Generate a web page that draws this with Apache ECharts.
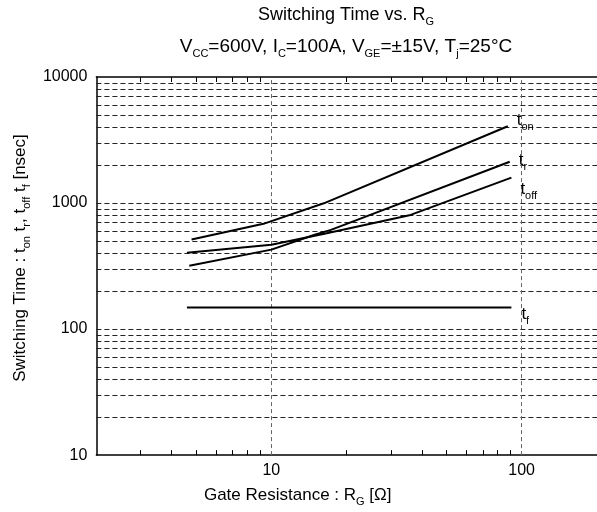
<!DOCTYPE html>
<html>
<head>
<meta charset="utf-8">
<script src="https://cdn.jsdelivr.net/npm/echarts@6/dist/echarts.min.js"></script>
<style>
  html, body { margin: 0; padding: 0; background: #fff; }
  #chart { width: 597px; height: 512px; }
</style>
</head>
<body>
<div id="chart"></div>
<script>
// gate resistance (ohm) and switching time (nsec)
const rgOn = [4.8, 9.3, 16.2, 88]
const tOn = [514, 684, 995, 4065]

const rgR = [4.7, 10, 14.9, 17.3, 89.6]
const tR = [318, 427, 560, 612, 2128]

const rgOff = [4.6, 10, 16.3, 36, 91]
const tOff = [404, 467, 570, 805, 1592]

const rgF = [4.6, 91]
const tF = [148, 148]

// axis ticks / grid values
const xLabels = [10, 100]
const xMinor = [3, 4, 5, 6, 7, 8, 9, 20, 30, 40, 50, 60, 70, 80, 90]
const yLabels = [10, 100, 1000, 10000]
const yGrid = [20, 30, 40, 50, 60, 70, 80, 90, 100, 200, 300, 400, 500, 600, 700, 800, 900,
  1000, 2000, 3000, 4000, 5000, 6000, 7000, 8000, 9000]

const FONT = 'Liberation Sans'
const subRich = {
  s: { fontFamily: FONT, fontSize: 11, color: '#000', verticalAlign: 'bottom', lineHeight: 24 }
}

function pairs(xs, ys) {
  return xs.map((x, i) => [x, ys[i]])
}

// curve with its name (t_on, t_r ...) written after the last point
function curve(sub, xs, ys, offset) {
  return {
    name: 't' + sub,
    type: 'line',
    data: pairs(xs, ys),
    symbol: 'none',
    lineStyle: { color: '#000', width: 2 },
    endLabel: {
      show: true,
      distance: 3,
      offset: offset,
      formatter: 't{s|' + sub + '}',
      fontFamily: FONT,
      fontSize: 17,
      lineHeight: 24,
      color: '#000',
      rich: subRich
    },
    z: 5
  }
}

const fSeries = curve('f', rgF, tF, [7, 7])
fSeries.markLine = {
  silent: true,
  symbol: 'none',
  label: { show: false },
  animation: false,
  data: yGrid.map(v => ({ yAxis: v, lineStyle: { color: '#222', width: 1, type: [5, 3] } }))
    .concat(xLabels.map(v => ({ xAxis: v, lineStyle: { color: '#666', width: 1, type: [4, 3] } })))
}

const option = {
  animation: false,
  textStyle: { fontFamily: FONT },
  title: [
    {
      text: 'Switching Time vs. R{s|G}',
      left: 346,
      top: 3,
      textAlign: 'center',
      padding: 0,
      textStyle: { fontFamily: FONT, fontSize: 18, fontWeight: 'normal', color: '#000', lineHeight: 24, rich: subRich }
    },
    {
      text: 'V{s|CC}=600V, I{s|C}=100A, V{s|GE}=±15V, T{s|j}=25°C',
      left: 346,
      top: 35,
      textAlign: 'center',
      padding: 0,
      textStyle: { fontFamily: FONT, fontSize: 19, fontWeight: 'normal', color: '#000', lineHeight: 24, rich: subRich }
    }
  ],
  grid: { left: 95, right: -1, top: 77, bottom: 54 },
  xAxis: [
    {
      type: 'log',
      logBase: 10,
      min: 2,
      max: 200,
      name: 'Gate Resistance : R{s|G} [Ω]',
      nameLocation: 'middle',
      nameGap: 26,
      nameTextStyle: {
        fontFamily: FONT, fontSize: 17, color: '#000', lineHeight: 24,
        padding: [0, 98, 0, 0], rich: subRich
      },
      axisLine: { lineStyle: { color: '#000', width: 1.5 } },
      axisTick: { show: true, inside: true, length: 5, customValues: xMinor, lineStyle: { color: '#000', width: 1 } },
      axisLabel: {
        customValues: xLabels, fontFamily: FONT, fontSize: 16, color: '#000', margin: 7,
        formatter: v => String(Math.round(v))
      },
      splitLine: { show: false },
      minorTick: { show: false }
    },
    {
      type: 'log',
      logBase: 10,
      min: 2,
      max: 200,
      position: 'top',
      axisLine: { lineStyle: { color: '#000', width: 1.5 } },
      axisTick: { show: true, inside: true, length: 5, customValues: xMinor, lineStyle: { color: '#000', width: 1 } },
      axisLabel: { show: false },
      splitLine: { show: false }
    }
  ],
  yAxis: {
    type: 'log',
    logBase: 10,
    min: 10,
    max: 10000,
    name: 'Switching Time : t{s|on} t{s|r}, t{s|off} t{s|f} [nsec]',
    nameLocation: 'middle',
    nameGap: 64,
    nameTextStyle: {
      fontFamily: FONT, fontSize: 17, color: '#000', lineHeight: 24,
      padding: [0, 0, 0, 16], rich: subRich
    },
    axisLine: { show: true, lineStyle: { color: '#000', width: 1.5 } },
    axisTick: { show: false },
    axisLabel: {
      customValues: yLabels, fontFamily: FONT, fontSize: 16, color: '#000', margin: 9,
      formatter: v => String(Math.round(v))
    },
    splitLine: { show: false }
  },
  series: [
    fSeries,
    curve('on', rgOn, tOn, [6, -6]),
    curve('r', rgR, tR, [6, -1]),
    curve('off', rgOff, tOff, [6, 12])
  ]
}

const chart = echarts.init(document.getElementById('chart'))
chart.setOption(option)
</script>
</body>
</html>
